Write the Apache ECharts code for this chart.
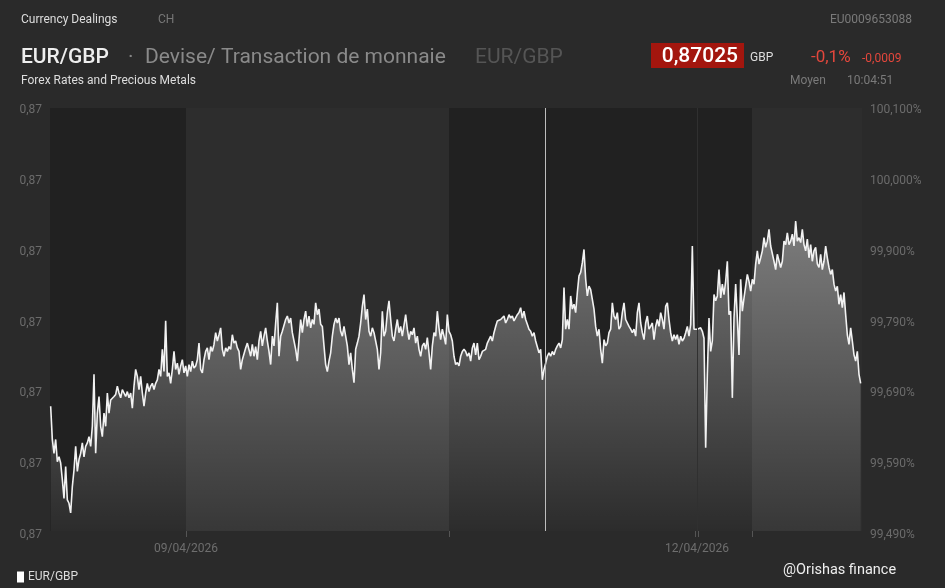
<!DOCTYPE html>
<html>
<head>
<meta charset="utf-8">
<title>EUR/GBP</title>
<script src="https://cdn.jsdelivr.net/npm/echarts@6/dist/echarts.min.js"></script>
<style>
  html, body { margin: 0; padding: 0; background: #2a2a2a; }
  #chart { width: 945px; height: 588px; }
</style>
</head>
<body>
<div id="chart"></div>
<script>
// EUR/GBP in % of reference, one reading every ~1.7px
const seg1 = [
  99.670, 99.622, 99.602, 99.622, 99.590, 99.597, 99.588, 99.564, 99.537, 99.583,
  99.535, 99.530, 99.516, 99.554, 99.578, 99.612, 99.576, 99.593, 99.602, 99.617,
  99.597, 99.612, 99.617, 99.626, 99.612, 99.641, 99.716, 99.602, 99.660, 99.684,
  99.641, 99.626, 99.660, 99.641, 99.689, 99.660, 99.679, 99.679, 99.684, 99.687,
  99.699, 99.689, 99.682, 99.694, 99.689, 99.684, 99.691, 99.682, 99.689, 99.667,
  99.699, 99.723, 99.713, 99.694, 99.713, 99.689, 99.670, 99.689, 99.703, 99.691,
  99.699, 99.703, 99.694, 99.703, 99.708, 99.723, 99.713, 99.752, 99.720, 99.793,
  99.713, 99.718, 99.703, 99.723, 99.749, 99.723, 99.732, 99.716, 99.728, 99.737,
  99.718, 99.728, 99.713, 99.730, 99.720, 99.735, 99.725, 99.728, 99.737, 99.761,
  99.723, 99.718, 99.737, 99.749, 99.754, 99.737, 99.756, 99.749, 99.759, 99.776,
  99.764, 99.773, 99.783, 99.752, 99.742, 99.754, 99.749, 99.756, 99.752, 99.773,
  99.761, 99.764, 99.754, 99.749, 99.723, 99.737, 99.737, 99.754, 99.761, 99.759,
  99.742, 99.759, 99.742, 99.756, 99.737
];
const seg2 = [
  99.764, 99.778, 99.757, 99.771, 99.783, 99.764, 99.749, 99.730, 99.771, 99.757,
  99.790, 99.819, 99.742, 99.771, 99.778, 99.776, 99.795, 99.800, 99.790, 99.797,
  99.776, 99.764, 99.752, 99.735, 99.766, 99.795, 99.776, 99.795, 99.807, 99.785,
  99.800, 99.783, 99.795, 99.788, 99.819, 99.802, 99.810, 99.788, 99.785, 99.757,
  99.730, 99.720, 99.735, 99.747, 99.771, 99.788, 99.797, 99.790, 99.797, 99.778,
  99.771, 99.785, 99.771, 99.757, 99.730, 99.747, 99.723, 99.704, 99.752, 99.761,
  99.771, 99.790, 99.814, 99.831, 99.795, 99.810, 99.778, 99.771, 99.783, 99.776,
  99.764, 99.752, 99.723, 99.747, 99.807, 99.771, 99.778, 99.805, 99.822, 99.795,
  99.771, 99.764, 99.781, 99.795, 99.776, 99.785, 99.771, 99.771, 99.802, 99.781,
  99.766, 99.778, 99.773, 99.783, 99.761, 99.771, 99.752, 99.742, 99.757, 99.761,
  99.752, 99.769, 99.747, 99.723, 99.757, 99.776, 99.771, 99.807, 99.783, 99.766,
  99.781, 99.771, 99.759, 99.802, 99.778, 99.773, 99.764, 99.742, 99.730, 99.733,
  99.728, 99.742, 99.749, 99.752
];
const seg3 = [
  99.749, 99.742, 99.747, 99.735, 99.754, 99.761, 99.744, 99.761, 99.737, 99.742,
  99.749, 99.749, 99.752, 99.761, 99.766, 99.771, 99.764, 99.776, 99.785, 99.793,
  99.793, 99.795, 99.793, 99.800, 99.790, 99.795, 99.802, 99.797, 99.800, 99.793,
  99.795, 99.802, 99.805, 99.812, 99.797, 99.807, 99.795, 99.788, 99.781, 99.778,
  99.771, 99.776, 99.764, 99.766, 99.747, 99.752, 99.708, 99.723, 99.732, 99.742,
  99.747, 99.742, 99.749, 99.744, 99.752, 99.757, 99.761, 99.754, 99.766, 99.841,
  99.781, 99.795, 99.781, 99.829, 99.810, 99.817, 99.805, 99.834, 99.858, 99.863,
  99.877, 99.896, 99.853, 99.829, 99.843, 99.838, 99.824, 99.810, 99.785, 99.771,
  99.781, 99.752, 99.732, 99.766, 99.757, 99.761, 99.776, 99.781, 99.819, 99.800,
  99.795, 99.805, 99.781, 99.785, 99.805, 99.819, 99.795, 99.795, 99.785, 99.781,
  99.776, 99.781, 99.771, 99.805, 99.819, 99.790, 99.776, 99.766, 99.790, 99.800,
  99.781, 99.785, 99.790, 99.766, 99.785, 99.795, 99.785, 99.805, 99.795, 99.781,
  99.814, 99.819, 99.795
];
const seg4 = [
  99.776, 99.764, 99.773, 99.766, 99.773, 99.759, 99.771, 99.764, 99.768, 99.776,
  99.785, 99.771, 99.788, 99.901, 99.781, 99.781, 99.781, 99.781, 99.783, 99.778,
  99.768, 99.610, 99.716, 99.797, 99.749, 99.764, 99.831, 99.822, 99.829, 99.867,
  99.826, 99.846, 99.831, 99.850, 99.879, 99.802, 99.807, 99.682, 99.797, 99.846,
  99.797, 99.744, 99.853, 99.807, 99.826, 99.843, 99.860, 99.850, 99.836, 99.853,
  99.846, 99.875, 99.894, 99.875, 99.884, 99.894, 99.913, 99.899, 99.908, 99.925,
  99.901, 99.903, 99.879, 99.867, 99.889, 99.891, 99.870, 99.879, 99.908, 99.903,
  99.920, 99.903, 99.908, 99.918, 99.901, 99.937, 99.908, 99.913, 99.906, 99.925,
  99.903, 99.894, 99.911, 99.884, 99.903, 99.879, 99.894, 99.899, 99.875, 99.870,
  99.889, 99.867, 99.879, 99.901, 99.884, 99.870, 99.860, 99.867, 99.846, 99.836,
  99.843, 99.817, 99.831, 99.812, 99.834, 99.802, 99.773, 99.759, 99.783, 99.764,
  99.744, 99.735, 99.749, 99.716, 99.703
];
const values = seg1.concat(seg2, seg3, seg4);

// positions on the x axis, in reading index
const xStart = -0.4;
const xEnd = 486.8;
const sessionBreaks = [81.2, 239, 420.8];
const dayTicks = [81.2, 387.8];
const dayLabels = ['09/04/2026', '12/04/2026'];
const cursorAt = 296.6;

const leftLabels = ['0,87', '0,87', '0,87', '0,87', '0,87', '0,87', '0,87'];
const rightLabels = ['99,490%', '99,590%', '99,690%', '99,790%', '99,900%', '100,000%', '100,100%'];
const yMin = 99.49;
const yMax = 100.10;

const chart = echarts.init(document.getElementById('chart'));
const font = 'Roboto, "Noto Sans", sans-serif';

chart.setOption({
  backgroundColor: '#2a2a2a',
  animation: false,
  textStyle: { fontFamily: font },
  grid: [
    { left: 50, right: 83, top: 108, bottom: 57 },
    // the scale labels sit a few pixels lower than the plot itself
    { left: 50, right: 83, top: 110, bottom: 53 }
  ],
  legend: {
    left: 12, top: 566,
    icon: 'rect', itemWidth: 7, itemHeight: 11, itemGap: 5,
    textStyle: { color: '#dddddd', fontSize: 12, fontFamily: font, padding: [0, 0, 0, -1] },
    data: ['EUR/GBP']
  },
  xAxis: [
    {
      type: 'value', min: xStart, max: xEnd, gridIndex: 0,
      axisLine: { show: false },
      splitLine: { show: false },
      axisTick: {
        show: true, length: 6,
        customValues: [sessionBreaks[0], sessionBreaks[1], dayTicks[1] - 0.9, dayTicks[1] + 0.9, sessionBreaks[2]],
        lineStyle: { color: '#555555' }
      },
      axisLabel: {
        customValues: dayTicks,
        color: '#6e6e6e', fontSize: 12, margin: 12,
        formatter: function (v) {
          let best = 0;
          dayTicks.forEach(function (t, i) { if (Math.abs(t - v) < Math.abs(dayTicks[best] - v)) best = i; });
          return dayLabels[best];
        }
      }
    },
    { type: 'value', gridIndex: 1, show: false, min: 0, max: 1 }
  ],
  yAxis: [
    {
      type: 'value', gridIndex: 1, position: 'left', min: 0, max: 6, interval: 1,
      axisLine: { show: false }, axisTick: { show: false }, splitLine: { show: false },
      axisLabel: { color: '#6b6b6b', fontSize: 12, margin: 8, formatter: function (v) { return leftLabels[v]; } }
    },
    {
      type: 'value', gridIndex: 1, position: 'right', min: 0, max: 6, interval: 1,
      axisLine: { show: false }, axisTick: { show: false }, splitLine: { show: false },
      axisLabel: { color: '#6b6b6b', fontSize: 12, margin: 8, formatter: function (v) { return rightLabels[v]; } }
    },
    {
      type: 'value', gridIndex: 0, show: false, min: yMin, max: yMax, splitLine: { show: false }
    }
  ],
  series: [
    {
      // session shading behind the price line
      type: 'line', xAxisIndex: 0, yAxisIndex: 2, data: [], z: 1, silent: true,
      markArea: {
        silent: true,
        data: [
          [{ xAxis: xStart, itemStyle: { color: '#212121' } }, { xAxis: sessionBreaks[0] }],
          [{ xAxis: sessionBreaks[0], itemStyle: { color: '#2d2d2d' } }, { xAxis: sessionBreaks[1] }],
          [{ xAxis: sessionBreaks[1], itemStyle: { color: '#212121' } }, { xAxis: sessionBreaks[2] }],
          [{ xAxis: sessionBreaks[2], itemStyle: { color: '#2d2d2d' } }, { xAxis: xEnd }]
        ]
      },
      markLine: {
        silent: true, symbol: 'none', label: { show: false },
        data: [
          { xAxis: dayTicks[1], lineStyle: { color: '#303030', width: 1, type: 'solid' } }
        ]
      }
    },
    {
      name: 'EUR/GBP',
      type: 'line', xAxisIndex: 0, yAxisIndex: 2, z: 3,
      data: values.map(function (v, i) { return [i, v]; }),
      showSymbol: false, symbol: 'none',
      lineStyle: { color: '#f2f2f2', width: 1.6 },
      itemStyle: { color: '#ffffff' },
      areaStyle: {
        origin: 'start',
        color: new echarts.graphic.LinearGradient(0, 0, 0, 1, [
          { offset: 0, color: 'rgba(255,255,255,0.54)' },
          { offset: 1, color: 'rgba(255,255,255,0.07)' }
        ])
      },
      markLine: {
        silent: true, symbol: 'none', label: { show: false },
        data: [{ xAxis: cursorAt, lineStyle: { color: '#bdbdbd', width: 1, type: 'solid' } }]
      }
    }
  ],
  graphic: [
    { type: 'text', left: 21, top: 14, style: { text: 'Currency Dealings', fill: '#dddddd', font: '12px ' + font } },
    { type: 'text', left: 158, top: 14, style: { text: 'CH', fill: '#777777', font: '12px ' + font } },
    { type: 'text', right: 33, top: 14, style: { text: 'EU0009653088', fill: '#7a7a7a', font: '12px ' + font } },
    { type: 'text', left: 21, top: 47, style: { text: 'EUR/GBP', fill: '#eeeeee', font: '500 21px ' + font } },
    { type: 'text', left: 128, top: 47, style: { text: '·', fill: '#888888', font: '21px ' + font } },
    { type: 'text', left: 145, top: 47, style: { text: 'Devise/ Transaction de monnaie', fill: '#8a8a8a', font: '21px ' + font } },
    { type: 'text', left: 475, top: 47, style: { text: 'EUR/GBP', fill: '#555555', font: '21px ' + font } },
    { type: 'rect', shape: { x: 651, y: 43, width: 93, height: 25 }, style: { fill: '#a3160e' } },
    { type: 'text', x: 738, y: 57, style: { text: '0,87025', fill: '#ffffff', font: '500 21px ' + font, align: 'right', verticalAlign: 'middle' } },
    { type: 'text', left: 750, top: 52, style: { text: 'GBP', fill: '#dddddd', font: '12px ' + font } },
    { type: 'text', left: 811, top: 49, style: { text: '-0,1%', fill: '#e4473c', font: '17px ' + font } },
    { type: 'text', left: 862, top: 53, style: { text: '-0,0009', fill: '#e4473c', font: '12px ' + font } },
    { type: 'text', left: 21, top: 75, style: { text: 'Forex Rates and Precious Metals', fill: '#dddddd', font: '12px ' + font } },
    { type: 'text', left: 790, top: 75, style: { text: 'Moyen', fill: '#7a7a7a', font: '12px ' + font } },
    { type: 'text', left: 847, top: 75, style: { text: '10:04:51', fill: '#7a7a7a', font: '12px ' + font } },
    { type: 'text', left: 783, top: 563, style: { text: '@Orishas finance', fill: '#eeeeee', font: '14.5px ' + font } }
  ]
});
</script>
</body>
</html>
